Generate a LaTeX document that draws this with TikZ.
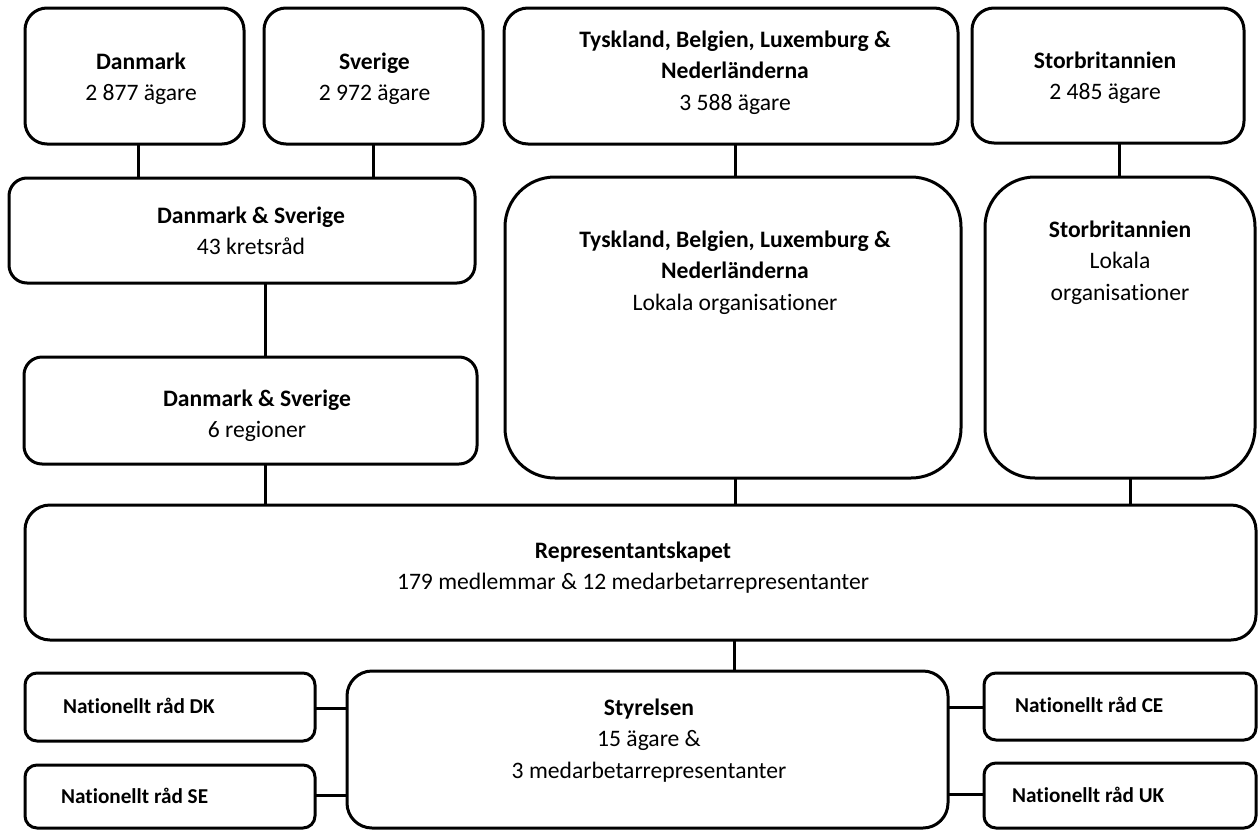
\documentclass[tikz,border=0pt]{standalone}
\usepackage{fontspec}
\setmainfont{Carlito}[Ligatures=NoCommon]
\newcommand{\stack}[1]{\begin{tabular}[t]{@{}c@{}}#1\end{tabular}}
\begin{document}
\begin{tikzpicture}[x=1pt,y=-1pt,
  box/.style={draw, line width=3pt, rounded corners=#1, anchor=north west,
    outer sep=0pt, inner sep=0pt},
  box/.default=20pt,
  link/.style={line width=3pt},
  txt/.style={anchor=base, inner sep=0pt, font=\fontsize{23.6}{31.7}\selectfont},
  small/.style={anchor=base west, inner sep=0pt, font=\fontsize{21.2}{26}\selectfont\bfseries}]
\useasboundingbox (0,0) rectangle (1258,830);

% owners per country
\node[box=22pt, minimum width=219pt, minimum height=136pt] (dk) at (25,8) {};
\node[box=22pt, minimum width=219pt, minimum height=136pt] (se) at (264,8) {};
\node[box=24pt, minimum width=454pt, minimum height=136pt] (de) at (504,8) {};
\node[box=22pt, minimum width=272pt, minimum height=135pt] (uk) at (972,8) {};

% local level
\node[box=18pt, minimum width=466pt, minimum height=105pt] (krets) at (9,178) {};
\node[box=50pt, minimum width=456pt, minimum height=301pt] (delok) at (505,177) {};
\node[box=50pt, minimum width=270pt, minimum height=301pt] (uklok) at (985,177) {};
\node[box=18pt, minimum width=453pt, minimum height=107pt] (reg) at (24,357) {};

% council and board
\node[box=25pt, minimum width=1231pt, minimum height=135pt] (rep) at (25,505) {};
\node[box=25pt, minimum width=601pt, minimum height=157pt] (sty) at (347,671) {};

% national councils
\node[box=12pt, minimum width=290pt, minimum height=68pt] (ndk) at (25,673) {};
\node[box=12pt, minimum width=290pt, minimum height=63pt] (nse) at (25,765) {};
\node[box=12pt, minimum width=272pt, minimum height=67pt] (nce) at (984,673) {};
\node[box=12pt, minimum width=272pt, minimum height=65pt] (nuk) at (984,763) {};

% texts
\node[txt] (dkT) at (141,69) {\stack{\textbf{Danmark}\\2 877 ägare}};
\node[txt] (seT) at (374.5,69) {\stack{\textbf{Sverige}\\2 972 ägare}};
\node[txt] (deT) at (735,47) {\stack{\textbf{Tyskland, Belgien, Luxemburg \&}\\\textbf{Nederländerna}\\3 588 ägare}};
\node[txt] (ukT) at (1105,68) {\stack{\textbf{Storbritannien}\\2 485 ägare}};
\node[txt] (kretsT) at (251,223) {\stack{\textbf{Danmark \& Sverige}\\43 kretsråd}};
\node[txt] (delokT) at (735,247) {\stack{\textbf{Tyskland, Belgien, Luxemburg \&}\\\textbf{Nederländerna}\\Lokala organisationer}};
\node[txt] (uklokT) at (1120,237) {\stack{\textbf{Storbritannien}\\Lokala\\organisationer}};
\node[txt] (regT) at (257,406) {\stack{\textbf{Danmark \& Sverige}\\6 regioner}};
\node[txt] (repT) at (633,558) {\stack{\textbf{Representantskapet}\\179 medlemmar \& 12 medarbetarrepresentanter}};
\node[txt] (styT) at (649,715) {\stack{\textbf{Styrelsen}\\15 ägare \&\\3 medarbetarrepresentanter}};
\node[small] (ndkT) at (63,713) {Nationellt råd DK};
\node[small] (nseT) at (61,803) {Nationellt råd SE};
\node[small] (nceT) at (1015,712) {Nationellt råd CE};
\node[small] (nukT) at (1012,802) {Nationellt råd UK};

% connector columns and rows
\coordinate (cdk) at (138,0);
\coordinate (cse) at (373,0);
\coordinate (cds) at (265,0);
\coordinate (cde) at (735,0);
\coordinate (cuk) at (1119,0);
\coordinate (cuk2) at (1130,0);
\coordinate (csty) at (734,0);
\coordinate (rtop) at (0,708);
\coordinate (rbot) at (0,795);
\coordinate (rtopR) at (0,707);
\coordinate (rbotR) at (0,794);

\draw[link] (dk.south -| cdk) -- (krets.north -| cdk);
\draw[link] (se.south -| cse) -- (krets.north -| cse);
\draw[link] (krets.south -| cds) -- (reg.north -| cds);
\draw[link] (reg.south -| cds) -- (rep.north -| cds);
\draw[link] (de.south -| cde) -- (delok.north -| cde);
\draw[link] (uk.south -| cuk) -- (uklok.north -| cuk);
\draw[link] (delok.south -| cde) -- (rep.north -| cde);
\draw[link] (uklok.south -| cuk2) -- (rep.north -| cuk2);
\draw[link] (rep.south -| csty) -- (sty.north -| csty);
\draw[link] (ndk.east |- rtop) -- (sty.west |- rtop);
\draw[link] (nse.east |- rbot) -- (sty.west |- rbot);
\draw[link] (sty.east |- rtopR) -- (nce.west |- rtopR);
\draw[link] (sty.east |- rbotR) -- (nuk.west |- rbotR);
\end{tikzpicture}
\end{document}
